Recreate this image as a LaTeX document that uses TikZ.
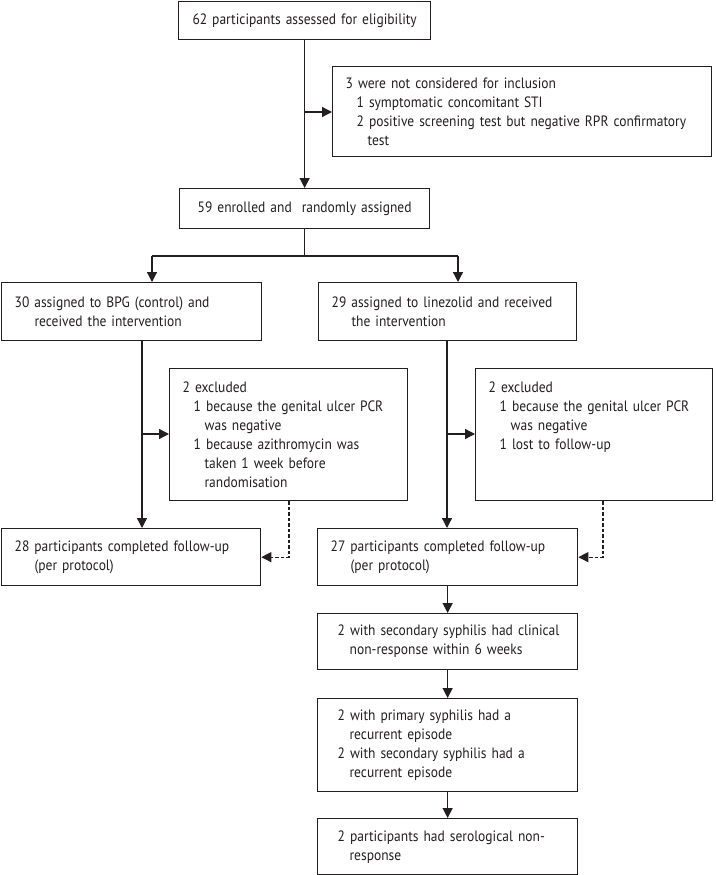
\documentclass[tikz,border=0pt]{standalone}
\usepackage{fontspec}
\setmainfont{PT Sans}[FakeStretch=0.9]
\usetikzlibrary{arrows.meta}
\definecolor{ink}{HTML}{231F20}
\newcommand\tl[1]{\mbox{#1}}
\begin{document}
\begin{tikzpicture}[x=1pt,y=-1pt,
  box/.style={draw=ink, line width=1.3pt, anchor=north west, inner xsep=13pt, inner ysep=0pt,
    align=left, text=ink, font=\fontsize{15}{19}\selectfont},
  line/.style={draw=ink, line width=1.3pt},
  arr/.style={line, -{Triangle[length=10pt,width=10pt]}},
  darr/.style={arr, dash pattern=on 3.5pt off 2pt}]
\useasboundingbox (0,0) rectangle (715,875);

\node[box, align=center, minimum width=252pt, minimum height=38pt, text width=226pt] (b1) at (178,1)
  {\tl{62 participants assessed for eligibility}};
\node[box, minimum width=379pt, minimum height=90pt, text width=353pt] (ex0) at (332,66)
  {\tl{3 were not considered for inclusion}\\
   \tl{\hspace*{11pt}1 symptomatic concomitant STI}\\
   \tl{\hspace*{11pt}2 positive screening test but negative RPR confirmatory}\\
   \tl{\hspace*{22pt}test}};
\node[box, align=center, minimum width=250pt, minimum height=40pt, text width=224pt] (b2) at (179,188)
  {\tl{59 enrolled and\ \ randomly assigned}};

\node[box, minimum width=260pt, minimum height=58pt, text width=234pt] (bL) at (1,282)
  {\tl{30 assigned to BPG (control) and}\\
   \tl{\hspace*{20pt}received the intervention}};
\node[box, minimum width=258pt, minimum height=58pt, text width=232pt] (bR) at (318,282)
  {\tl{29 assigned to linezolid and received}\\
   \tl{\hspace*{20pt}the intervention}};

\node[box, minimum width=238pt, minimum height=132pt, text width=212pt] (exL) at (169,368)
  {\tl{2 excluded}\\
   \tl{\hspace*{11pt}1 because the genital ulcer PCR}\\
   \tl{\hspace*{22pt}was negative}\\
   \tl{\hspace*{11pt}1 because azithromycin was}\\
   \tl{\hspace*{22pt}taken 1 week before}\\
   \tl{\hspace*{22pt}randomisation}};
\node[box, minimum width=237pt, minimum height=132pt, text width=211pt] (exR) at (475,368)
  {\tl{2 excluded}\\
   \tl{\hspace*{11pt}1 because the genital ulcer PCR}\\
   \tl{\hspace*{22pt}was negative}\\
   \tl{\hspace*{11pt}1 lost to follow-up}\\
   \tl{}\\
   \tl{}};

\node[box, minimum width=259pt, minimum height=57pt, text width=233pt] (fL) at (1,528)
  {\tl{28 participants completed follow-up}\\
   \tl{\hspace*{20pt}(per protocol)}};
\node[box, minimum width=260pt, minimum height=57pt, text width=234pt] (fR) at (317,528)
  {\tl{27 participants completed follow-up}\\
   \tl{\hspace*{20pt}(per protocol)}};

\node[box, minimum width=260pt, minimum height=56pt, text width=234pt] (s1) at (317,613)
  {\tl{\hspace*{7pt}2 with secondary syphilis had clinical}\\
   \tl{\hspace*{19pt}non-response within 6 weeks}};
\node[box, minimum width=260pt, minimum height=93pt, text width=234pt] (s2) at (317,698)
  {\tl{\hspace*{7pt}2 with primary syphilis had a}\\
   \tl{\hspace*{19pt}recurrent episode}\\
   \tl{\hspace*{7pt}2 with secondary syphilis had a}\\
   \tl{\hspace*{19pt}recurrent episode}};
\node[box, minimum width=260pt, minimum height=56pt, text width=234pt] (s3) at (317,818)
  {\tl{\hspace*{7pt}2 participants had serological non-}\\
   \tl{\hspace*{19pt}response}};

% connectors
\coordinate (j0) at (304,112);
\draw[arr] (b1.south) -- (b2.north);
\draw[arr] (j0) -- (j0 -| ex0.west);

\coordinate (sL) at (152,256);
\coordinate (sR) at (458,256);
\draw[line] (b2.south) -- (b2.south |- sL);
\draw[line] (sL) -- (sR);
\draw[arr] (sL) -- (sL |- bL.north);
\draw[arr] (sR) -- (sR |- bR.north);

\coordinate (jL) at (142,434);
\coordinate (jR) at (447,434);
\draw[arr] (bL.south -| jL) -- (fL.north -| jL);
\draw[arr] (jL) -- (jL -| exL.west);
\draw[arr] (bR.south -| jR) -- (fR.north -| jR);
\draw[arr] (jR) -- (jR -| exR.west);

\coordinate (dL) at (289,557);
\coordinate (dR) at (603,557);
\draw[darr] (exL.south -| dL) |- (fL.east);
\draw[darr] (exR.south -| dR) |- (fR.east);

\draw[arr] (fR.south) -- (s1.north);
\draw[arr] (s1.south) -- (s2.north);
\draw[arr] (s2.south) -- (s3.north);
\end{tikzpicture}
\end{document}
